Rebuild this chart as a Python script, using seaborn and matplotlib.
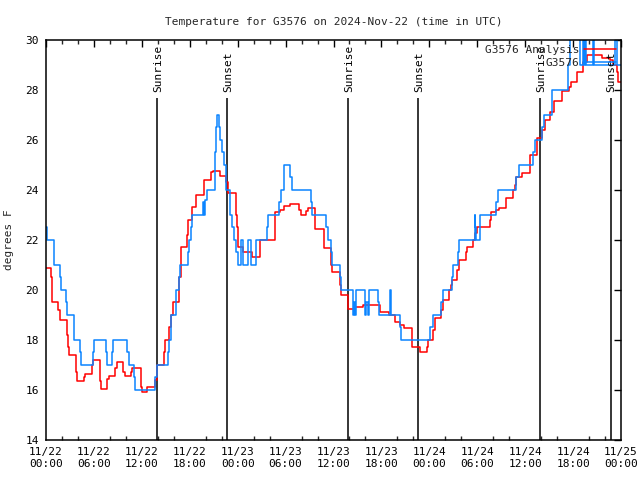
import numpy as np
import pandas as pd
import matplotlib
matplotlib.use("Agg")
import matplotlib.pyplot as plt
from matplotlib.ticker import MultipleLocator
import seaborn as sns

# ---------------- data (hours since 11/22 00:00 UTC) ----------------
analysis_hours = [0.0, 0.67, 0.8, 1.5, 1.7, 2.6, 2.7, 2.9, 3.7, 3.9, 4.7, 4.85, 5.7, 5.9,
                  6.75, 6.9, 7.7, 7.9, 8.7, 8.9, 9.65, 9.85, 10.6, 10.8, 11.85, 12.0, 12.7,
                  13.6, 13.85, 14.8, 14.9, 15.45, 15.7, 15.86, 16.7, 16.86, 17.6, 17.8, 18.25,
                  18.8, 19.8, 20.7, 20.9, 21.8, 22.5, 22.8, 23.75, 23.9, 24.0, 24.1, 24.7,
                  25.75, 26.8, 28.7, 29.3, 29.85, 30.55, 31.7, 31.95, 32.6, 32.85, 33.7,
                  34.75, 34.85, 35.7, 35.85, 36.8, 36.95, 37.86, 38.7, 39.74, 41.8, 42.9,
                  43.7, 44.3, 44.8, 45.8, 46.8, 47.67, 47.87, 48.5, 48.7, 49.4, 49.67, 50.5,
                  50.7, 50.9, 51.5, 51.76, 52.55, 52.7, 53.5, 53.7, 54.0, 55.6, 55.7, 56.4,
                  56.7, 57.56, 58.5, 58.7, 58.9, 59.6, 60.6, 61.5, 62.07, 62.5, 63.1, 63.6,
                  64.57, 65.5, 65.7, 66.5, 67.3, 67.7, 69.6, 70.6, 70.96, 71.46, 71.67, 72.0]
analysis_temp = [20.9, 20.5, 19.5, 19.2, 18.8, 18.2, 17.7, 17.4, 16.7, 16.35, 16.5, 16.65, 17.0, 17.2,
                 16.35, 16.05, 16.45, 16.55, 16.9, 17.1, 16.7, 16.55, 16.7, 16.9, 16.1, 15.9, 16.1,
                 16.4, 17.0, 17.5, 18.0, 18.5, 19.0, 19.5, 20.5, 21.7, 22.2, 22.8, 23.3,
                 23.8, 24.4, 24.7, 24.75, 24.55, 24.3, 23.87, 23.0, 22.5, 22.07, 21.73, 21.53,
                 21.33, 22.0, 23.1, 23.2, 23.36, 23.44, 23.2, 23.0, 23.15, 23.27, 22.43,
                 22.0, 21.67, 21.0, 20.73, 20.2, 19.8, 19.23, 19.33, 19.4, 19.13, 19.0,
                 18.7, 18.6, 18.47, 17.73, 17.5, 17.7, 18.0, 18.4, 18.87, 19.2, 19.6, 20.0,
                 20.2, 20.4, 20.8, 21.2, 21.5, 21.73, 22.0, 22.27, 22.53, 22.8, 23.13, 23.2,
                 23.27, 23.67, 24.0, 24.2, 24.53, 24.67, 25.4, 26.07, 26.4, 26.8, 27.13, 27.56,
                 27.97, 28.1, 28.33, 28.7, 29.1, 29.4, 29.27, 29.2, 29.0, 28.7, 28.3, 28.3]

obs_hours = [0.0, 0.17, 0.95, 1.05, 1.7, 1.9, 2.55, 2.65, 3.45, 3.55, 4.2, 4.35, 5.9, 6.0,
             7.55, 7.65, 8.25, 8.4, 10.2, 10.35, 11.0, 11.1, 13.7, 13.85, 15.3, 15.35, 15.6,
             15.7, 16.28, 16.7, 16.8, 17.8, 17.95, 18.1, 18.24, 19.6, 19.75, 19.85, 20.1,
             21.1, 21.3, 21.4, 21.6, 21.8, 22.0, 22.3, 22.6, 23.1, 23.3, 23.5, 23.75, 24.05,
             24.4, 24.7, 25.3, 25.65, 26.3, 27.65, 27.8, 29.2, 29.4, 29.85, 30.6, 30.75,
             33.15, 33.35, 35.05, 35.25, 35.7, 35.77, 36.8, 36.94, 38.5, 38.55, 38.65, 38.8,
             40.0, 40.1, 40.3, 40.45, 41.55, 41.7, 43.05, 43.15, 44.3, 44.4, 48.1, 48.4,
             49.5, 49.7, 50.8, 50.95, 51.6, 51.7, 53.7, 53.75, 53.85, 54.4, 56.4, 56.55,
             58.9, 59.2, 61.0, 61.2, 62.07, 62.36, 63.4, 65.4, 65.6, 66.9, 67.3, 67.35,
             67.55, 67.6, 68.5, 68.6, 71.25, 71.5, 72.0]
obs_temp = [22.5, 22.0, 21.5, 21.0, 20.5, 20.0, 19.5, 19.0, 18.5, 18.0, 17.5, 17.0, 17.5, 18.0,
            17.5, 17.0, 17.5, 18.0, 17.5, 17.0, 16.5, 16.0, 16.5, 17.0, 17.5, 18.0, 18.5,
            19.0, 20.0, 20.5, 21.0, 21.5, 22.0, 22.5, 23.0, 23.5, 23.0, 23.6, 24.0,
            25.5, 26.5, 27.0, 26.5, 26.0, 25.5, 25.0, 24.0, 23.0, 22.5, 22.0, 21.5, 21.0,
            22.0, 21.0, 22.0, 21.0, 22.0, 22.5, 23.0, 23.5, 24.0, 25.0, 24.5, 24.0,
            23.5, 23.0, 22.5, 22.0, 21.5, 21.0, 20.5, 20.0, 19.0, 19.5, 19.0, 20.0,
            19.0, 19.5, 19.0, 20.0, 19.5, 19.0, 20.0, 19.0, 18.5, 18.0, 18.5, 19.0,
            19.5, 20.0, 20.5, 21.0, 21.5, 22.0, 23.0, 22.5, 22.0, 23.0, 23.5, 24.0,
            24.5, 25.0, 25.5, 26.0, 26.5, 27.0, 28.0, 29.0, 30.3, 29.0, 30.3, 29.0,
            30.3, 29.0, 30.3, 29.0, 30.3, 29.0, 29.0]

sun_names = ["Sunrise", "Sunset", "Sunrise", "Sunset", "Sunrise", "Sunset"]
sun_hours = [13.94, 22.7, 37.86, 46.62, 61.86, 70.7]

xtick_hours = [0, 6, 12, 18, 24, 30, 36, 42, 48, 54, 60, 66, 72]
xtick_labels = ["11/22\n00:00", "11/22\n06:00", "11/22\n12:00", "11/22\n18:00",
                "11/23\n00:00", "11/23\n06:00", "11/23\n12:00", "11/23\n18:00",
                "11/24\n00:00", "11/24\n06:00", "11/24\n12:00", "11/24\n18:00",
                "11/25\n00:00"]
ytick_values = [14, 16, 18, 20, 22, 24, 26, 28, 30]

series_names = ["G3576 Analysis", "G3576"]
series_colors = {"G3576 Analysis": "#ff0000", "G3576": "#0a84ff"}

# ---------------- build table ----------------
df = pd.concat([
    pd.DataFrame({"hour": analysis_hours, "temp": analysis_temp, "series": series_names[0]}),
    pd.DataFrame({"hour": obs_hours, "temp": obs_temp, "series": series_names[1]}),
], ignore_index=True)

sns.set_theme(style="white")
plt.rcParams["font.family"] = ["DejaVu Sans Mono", "DejaVu Sans"]
plt.rcParams["font.size"] = 8

fig = plt.figure(figsize=(6.4, 4.8), dpi=100)
ax = fig.add_axes([46 / 640, 40 / 480, 575 / 640, 400 / 480])

sns.lineplot(data=df, x="hour", y="temp", hue="series", hue_order=series_names,
             palette=series_colors, drawstyle="steps-post", estimator=None, sort=False,
             linewidth=1.1, ax=ax)

# sunrise / sunset markers
ax.vlines(sun_hours, 14, 27.68, color="black", linewidth=1.1, zorder=1)
for h, name in zip(sun_hours, sun_names):
    ax.text(h + 0.1, 27.92, name, rotation=90, ha="center", va="bottom",
            fontsize=8, color="black")

ax.set_xlim(0, 72)
ax.set_ylim(14, 30)
ax.set_xticks(xtick_hours)
ax.set_xticklabels(xtick_labels, linespacing=1.25)
ax.set_yticks(ytick_values)
ax.set_yticklabels([str(v) for v in ytick_values])
ax.xaxis.set_minor_locator(MultipleLocator(2))
ax.tick_params(axis="both", which="major", direction="in", length=5, width=1,
               top=True, right=True, labelsize=8, colors="black", pad=5)
ax.tick_params(axis="x", which="minor", direction="in", length=3, width=1,
               top=True, bottom=True)
for sp in ax.spines.values():
    sp.set_color("black")
    sp.set_linewidth(1.1)
    sp.set_visible(True)

ax.set_xlabel("")
ax.set_ylabel("degrees F", fontsize=8)
ax.yaxis.set_label_coords(-0.056, 0.5)
ax.set_title("Temperature for G3576 on 2024-Nov-22 (time in UTC)", fontsize=8, pad=11)

old = ax.get_legend()
handles = old.legend_handles
labels = [t.get_text() for t in old.get_texts()]
old.remove()
ax.legend(handles, labels, loc="upper right", markerfirst=False, frameon=False,
          handlelength=2.9, handletextpad=0.4, labelspacing=0.25, borderaxespad=0.2,
          borderpad=0.25, fontsize=8)

fig.savefig("out.png", dpi=100)
